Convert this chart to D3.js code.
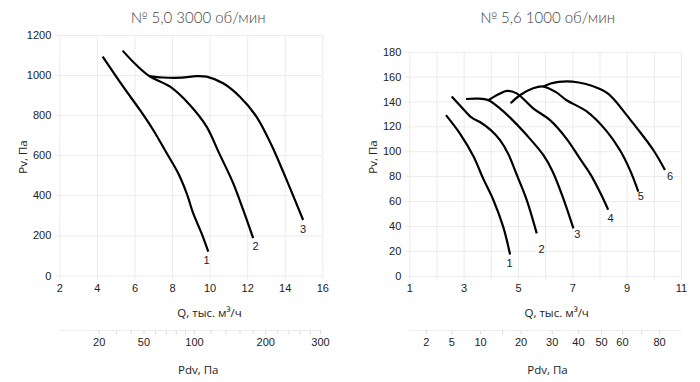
<!DOCTYPE html>
<html><head><meta charset="utf-8">
<script src="https://cdn.jsdelivr.net/npm/d3@7"></script>
<style>body{margin:0;background:#fff} svg{display:block}</style>
</head><body><svg id="c" width="700" height="382"></svg>
<script>
// ---------- data ----------
const leftTitle = "№ 5,0 3000 об/мин";
const rightTitle = "№ 5,6 1000 об/мин";
const qAxisTitle = "Q, тыс. м³/ч";
const pAxisTitle = "Pv, Па";
const pdvAxisTitle = "Pdv, Па";

const leftQTicks = [2, 4, 6, 8, 10, 12, 14, 16];
const leftQLabels = [2, 4, 6, 8, 10, 12, 14, 16];
const leftPTicks = [0, 200, 400, 600, 800, 1000, 1200];
const leftPdvTicks = [20, 30, 40, 50, 60, 70, 80, 90, 100, 120, 140, 160, 180, 200, 220, 240, 260, 280, 300];
const leftPdvLabels = [20, 50, 100, 200, 300];

const rightQTicks = [1, 2, 3, 4, 5, 6, 7, 8, 9, 10, 11];
const rightQLabels = [1, 3, 5, 7, 9, 11];
const rightPTicks = [0, 20, 40, 60, 80, 100, 120, 140, 160, 180];
const rightPdvTicks = [2, 5, 10, 15, 20, 30, 40, 50, 60, 70, 80];
const rightPdvLabels = [2, 5, 10, 20, 30, 40, 50, 60, 80];

// curves: [Q (тыс. м³/ч), Pv (Па)]
const left1 = [[4.31,1092],[5.4,942],[6.29,826],[7.0,726],[7.62,626],[8.33,510],[8.78,410],[9.13,310],[9.57,211],[9.93,119]];
const left2 = [[5.37,1122],[6.1,1050],[6.79,995],[7.9,942],[8.95,851],[9.84,743],[10.5,612],[11.26,460],[11.79,327],[12.32,186]];
const left3 = [[6.79,995],[7.5,988],[8.5,987],[9.3,995],[9.84,992],[10.72,959],[11.61,892],[12.5,792],[13.3,650],[14.1,477],[14.98,277]];
const leftNames = ["1", "2", "3"];
const leftLabelAt = [[9.84,77],[12.45,144],[14.98,230]];

const right1 = [[2.35,129],[2.87,114],[3.36,96],[3.72,78],[4.09,61],[4.46,39],[4.71,17]];
const right2 = [[2.56,144],[2.9,136],[3.3,127],[3.6,123.5],[4.0,117],[4.34,109],[4.65,97.5],[4.92,83],[5.32,61],[5.69,34]];
const right3 = [[3.09,142],[3.5,142.3],[3.91,141],[4.3,135],[4.71,127],[5.32,113],[5.93,97],[6.27,84],[6.67,62],[7.04,38]];
const right4 = [[3.91,141],[4.3,146],[4.6,148.5],[4.95,146.5],[5.56,134.5],[6.18,125],[6.79,110],[7.28,94],[7.68,81],[8.02,67],[8.32,53]];
const right5 = [[4.73,138.5],[5.07,145],[5.56,150.6],[5.93,152],[6.4,147.5],[6.79,141],[7.53,132],[8.27,116],[8.75,101],[9.12,85],[9.43,67.5]];
const right6 = [[5.93,152],[6.2,154.5],[6.5,155.8],[7.0,156],[7.5,154],[8.02,150],[8.3,146.5],[8.6,140],[9.0,129],[9.4,118],[9.98,101],[10.41,85]];
const rightNames = ["1", "2", "3", "4", "5", "6"];
const rightLabelAt = [[4.69,10],[5.87,21.3],[7.18,33.6],[8.41,46.6],[9.52,64],[10.6,79.6]];

// Pdv = k * Q^2 (dynamic pressure)
const leftPdvK = 1.19;
const rightPdvK = 0.77;

// ---------- drawing ----------
const svg = d3.select("#c");
const GRID = "#ebebeb";
const TICKFONT = "'Liberation Sans', Arial, sans-serif";

function panel(o) {
  const g = svg.append("g");
  const x = d3.scaleLinear().domain(o.qDomain).range(o.xr);
  const y = d3.scaleLinear().domain(o.pDomain).range(o.yr);
  const x0 = o.xr[0], x1 = o.xr[1], yb = o.yr[0], yt = o.yr[1];

  // horizontal grid + y labels
  const ya = g.append("g").attr("transform", `translate(${x0 - 4},0)`)
    .call(d3.axisLeft(y).tickValues(o.pTicks).tickSize(-(x1 - x0 + 4)).tickPadding(4).tickFormat(d => String(d)));
  ya.select(".domain").remove();
  ya.selectAll("line").attr("stroke", GRID);
  ya.selectAll("text").attr("font-family", TICKFONT).attr("font-size", 11).attr("fill", "#222");

  // vertical grid + x labels
  const xa = g.append("g").attr("transform", `translate(0,${yb + 4})`)
    .call(d3.axisBottom(x).tickValues(o.qTicks).tickSize(-(yb - yt + 4)).tickPadding(5)
      .tickFormat(d => o.qLabels.includes(d) ? String(d) : ""));
  xa.select(".domain").remove();
  xa.selectAll("line").attr("stroke", GRID);
  xa.selectAll("text").attr("font-family", TICKFONT).attr("font-size", 11).attr("fill", "#222");

  // curves
  const line = d3.line().x(d => x(d[0])).y(d => y(d[1])).curve(d3.curveCatmullRom.alpha(0.5));
  g.append("g").selectAll("path").data(o.curves).join("path")
    .attr("d", line).attr("fill", "none").attr("stroke", "#000").attr("stroke-width", 2.2)
    .attr("stroke-linejoin", "round");
  g.append("g").selectAll("text").data(o.labelAt).join("text")
    .attr("x", d => x(d[0])).attr("y", d => y(d[1])).attr("dy", "0.35em")
    .attr("text-anchor", "middle").attr("font-family", TICKFONT).attr("font-size", 11).attr("fill", "#222")
    .text((d, i) => o.names[i]);

  // Pdv axis
  const pd = d3.scaleSqrt()
    .domain([o.k * o.qDomain[0] * o.qDomain[0], o.k * o.qDomain[1] * o.qDomain[1]])
    .range(o.xr);
  const pa = g.append("g").attr("transform", `translate(0,${o.pdvY})`)
    .call(d3.axisBottom(pd).tickValues(o.pdvTicks).tickSize(4).tickPadding(4)
      .tickFormat(d => o.pdvLabels.includes(d) ? String(d) : ""));
  pa.select(".domain").attr("stroke", GRID).attr("d", `M${x0},0H${x1}`);
  pa.selectAll("line").attr("stroke", "#dcdcdc");
  pa.selectAll("text").attr("font-family", TICKFONT).attr("font-size", 11).attr("fill", "#222");

  // titles
  g.append("text").attr("x", o.titleX).attr("y", 18).attr("dy", "0.35em").attr("text-anchor", "middle")
    .attr("font-family", "Lato, 'Open Sans', sans-serif").attr("font-weight", 300)
    .attr("font-size", 15).attr("fill", "#444").text(o.title);
  g.append("text").attr("transform", `translate(${o.pLabelX},157) rotate(-90)`).attr("dy", "0.35em")
    .attr("text-anchor", "middle").attr("font-family", "'Open Sans', sans-serif")
    .attr("font-size", 11.5).attr("fill", "#222").text(pAxisTitle);
  g.append("text").attr("x", o.qLabelX).attr("y", 313).attr("dy", "0.35em").attr("text-anchor", "middle")
    .attr("font-family", "'Open Sans', sans-serif").attr("font-size", 11.5).attr("fill", "#222").text(qAxisTitle);
  g.append("text").attr("x", o.pdvLabelX).attr("y", 370).attr("dy", "0.35em").attr("text-anchor", "middle")
    .attr("font-family", "'Open Sans', sans-serif").attr("font-size", 11.5).attr("fill", "#222").text(pdvAxisTitle);
}

panel({
  title: leftTitle, titleX: 198,
  qDomain: [2, 16], pDomain: [0, 1200], xr: [59.3, 322.3], yr: [275.5, 35],
  qTicks: leftQTicks, qLabels: leftQLabels, pTicks: leftPTicks,
  curves: [left1, left2, left3], names: leftNames, labelAt: leftLabelAt,
  k: leftPdvK, pdvTicks: leftPdvTicks, pdvLabels: leftPdvLabels, pdvY: 330.7,
  pLabelX: 23, qLabelX: 209.5, pdvLabelX: 198.3
});
panel({
  title: rightTitle, titleX: 547.5,
  qDomain: [1, 11], pDomain: [0, 180], xr: [409.3, 681], yr: [275.7, 51.7],
  qTicks: rightQTicks, qLabels: rightQLabels, pTicks: rightPTicks,
  curves: [right1, right2, right3, right4, right5, right6], names: rightNames, labelAt: rightLabelAt,
  k: rightPdvK, pdvTicks: rightPdvTicks, pdvLabels: rightPdvLabels, pdvY: 330.7,
  pLabelX: 373.3, qLabelX: 556.7, pdvLabelX: 547.5
});
</script>
</body></html>
